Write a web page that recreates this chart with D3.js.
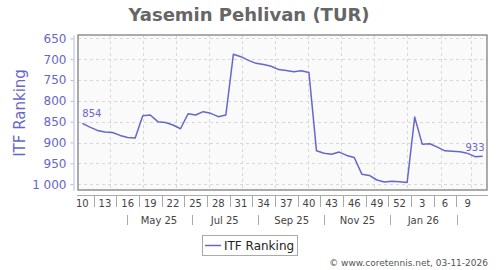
<!DOCTYPE html>
<html>
  <head>
    <meta charset="utf-8">
    <title>Yasemin Pehlivan (TUR)</title>
    <script src="https://d3js.org/d3.v7.min.js"></script>
    <style>
      body { margin: 0; background: #fff; }
      svg { font-family: "DejaVu Sans", sans-serif; display: block; }
    </style>
  </head>
  <body>
    <svg id="chart" width="500" height="270"></svg>
    <script>
      // data: weekly ITF ranking, first week = week 10 of 2025
      const firstWeek = "2025-03-06";
      const ranking = [854, 863, 871, 875, 876, 883, 888, 889, 836, 834,
        850, 852, 858, 867, 831, 834, 826, 830, 838, 834,
        688, 694, 703, 710, 713, 717, 725, 727, 730, 728,
        732, 920, 926, 928, 923, 931, 936, 976, 979, 990,
        995, 993, 994, 996, 839, 904, 903, 911, 920, 921,
        922, 926, 934, 933];
      const weekLabels = ["10", "13", "16", "19", "22", "25", "28", "31", "34",
        "37", "40", "43", "46", "49", "52", "3", "6", "9"];
      const monthLabels = ["May 25", "Jul 25", "Sep 25", "Nov 25", "Jan 26"];
      const yTicks = [650, 700, 750, 800, 850, 900, 950, 1000];

      const parse = d3.timeParse("%Y-%m-%d");
      const start = parse(firstWeek);
      const series = ranking.map(function(v, i) {
        return { date: d3.timeWeek.offset(start, i), rank: v };
      });
      // week labels every 3rd week, month labels mid-month every 2nd month
      const weekDates = weekLabels.map(function(l, i) { return d3.timeWeek.offset(start, i * 3); });
      const monthDates = monthLabels.map(function(l, i) { return d3.timeMonth.offset(new Date(2025, 4, 16), i * 2); });

      const plot = { left: 78, right: 487, top: 35, bottom: 190 };
      const colour = "#6666cc";
      const chart = d3.select("#chart");

      const x = d3.scaleTime()
        .domain([new Date(2025, 2, 2), new Date(2026, 2, 16)])
        .range([plot.left, plot.right]);
      const y = d3.scaleLinear()
        .domain([642, 1014])
        .range([plot.top, plot.bottom]);
      const fmt = d3.formatLocale({ decimal: ",", thousands: " ", grouping: [3], currency: ["", ""] }).format(",d");

      // title
      chart.append("text")
        .attr("x", 249).attr("y", 21)
        .attr("text-anchor", "middle")
        .style("font-size", "18px").style("font-weight", "bold")
        .style("fill", "#666")
        .text("Yasemin Pehlivan (TUR)");

      // plot background and grid
      chart.append("rect")
        .attr("x", plot.left).attr("y", plot.top)
        .attr("width", plot.right - plot.left).attr("height", plot.bottom - plot.top)
        .style("fill", "#fafafa");
      const grid = chart.append("g")
        .style("stroke", "#d8d8d8").style("stroke-dasharray", "3,3");
      grid.selectAll(".h").data(yTicks)
        .enter().append("line")
          .attr("x1", plot.left).attr("x2", plot.right)
          .attr("y1", function(d) { return Math.round(y(d)) + 0.5; })
          .attr("y2", function(d) { return Math.round(y(d)) + 0.5; });
      grid.selectAll(".v").data(d3.timeMonth.range(new Date(2025, 3, 1), new Date(2026, 2, 2)))
        .enter().append("line")
          .attr("y1", plot.top).attr("y2", plot.bottom)
          .attr("x1", function(d) { return Math.round(x(d)) + 0.5; })
          .attr("x2", function(d) { return Math.round(x(d)) + 0.5; });
      chart.append("rect")
        .attr("x", plot.left).attr("y", plot.top)
        .attr("width", plot.right - plot.left).attr("height", plot.bottom - plot.top)
        .style("fill", "none").style("stroke", "#808080").style("stroke-width", 1.3);

      // y axis
      const yAxis = d3.axisLeft(y)
        .tickValues(yTicks)
        .tickFormat(fmt)
        .tickSize(3)
        .tickPadding(4)
        .tickSizeOuter(0);
      const yAxisGroup = chart.append("g")
        .attr("transform", "translate(73.5, 0)")
        .call(yAxis);
      yAxisGroup.select(".domain").style("stroke", "#b8b8e4");
      yAxisGroup.selectAll(".tick line").style("stroke", "#b8b8e4");
      yAxisGroup.selectAll(".tick text")
        .style("font-family", "DejaVu Sans").style("font-size", "12px")
        .style("fill", colour);
      chart.append("text")
        .attr("transform", "translate(25, 113) rotate(-90)")
        .attr("text-anchor", "middle")
        .style("font-size", "15px").style("fill", colour)
        .text("ITF Ranking");

      // x axis: week row and month row
      const xg = chart.append("g");
      xg.append("line")
        .attr("x1", plot.left - 1).attr("x2", plot.right + 1)
        .attr("y1", 195.5).attr("y2", 195.5)
        .style("stroke", "#aaa");
      const weekSeps = weekDates.slice(1).map(function(d, i) {
        return new Date((d.getTime() + weekDates[i].getTime()) / 2);
      });
      xg.selectAll(".wtick").data(weekSeps)
        .enter().append("line")
          .attr("x1", function(d) { return Math.round(x(d)) + 0.5; })
          .attr("x2", function(d) { return Math.round(x(d)) + 0.5; })
          .attr("y1", 196).attr("y2", 199)
          .style("stroke", "#aaa");
      xg.selectAll(".wsep").data(weekSeps)
        .enter().append("line")
          .attr("x1", function(d) { return Math.round(x(d)) + 0.5; })
          .attr("x2", function(d) { return Math.round(x(d)) + 0.5; })
          .attr("y1", 199).attr("y2", 207)
          .style("stroke", "#aaa");
      xg.selectAll(".wlab").data(weekLabels)
        .enter().append("text")
          .attr("x", function(d, i) { return x(weekDates[i]); })
          .attr("y", 207)
          .attr("text-anchor", "middle")
          .style("font-size", "10px").style("fill", "#444")
          .text(function(d) { return d; });
      const monthSeps = monthDates.map(function(d) { return d3.timeMonth.offset(d, -1); })
        .concat([d3.timeMonth.offset(monthDates[monthDates.length - 1], 1)]);
      xg.selectAll(".msep").data(monthSeps)
        .enter().append("line")
          .attr("x1", function(d) { return Math.round(x(d)) + 0.5; })
          .attr("x2", function(d) { return Math.round(x(d)) + 0.5; })
          .attr("y1", 215).attr("y2", 225)
          .style("stroke", "#aaa");
      xg.selectAll(".mlab").data(monthLabels)
        .enter().append("text")
          .attr("x", function(d, i) { return x(monthDates[i]); })
          .attr("y", 223.5)
          .attr("text-anchor", "middle")
          .style("font-size", "10px").style("fill", "#444")
          .text(function(d) { return d; });

      // ranking line
      const line = d3.line()
        .x(function(d) { return x(d.date); })
        .y(function(d) { return y(d.rank); });
      chart.append("path")
        .datum(series)
        .attr("d", line)
        .style("fill", "none").style("stroke", colour)
        .style("stroke-width", 1.5).style("stroke-linejoin", "round");

      // first and last value labels
      const first = series[0], last = series[series.length - 1];
      chart.append("text")
        .attr("x", x(first.date)).attr("y", y(first.rank) - 6)
        .style("font-size", "10px").style("fill", colour)
        .text(first.rank);
      chart.append("text")
        .attr("x", plot.right - 2.5).attr("y", y(last.rank) - 5)
        .attr("text-anchor", "end")
        .style("font-size", "10px").style("fill", colour)
        .style("stroke", "#fafafa").style("stroke-width", 3).style("paint-order", "stroke")
        .text(last.rank);

      // legend
      const legend = chart.append("g");
      legend.append("rect")
        .attr("x", 202.5).attr("y", 235.5).attr("width", 95).attr("height", 20)
        .style("fill", "#fff").style("stroke", "#aaa");
      legend.append("line")
        .attr("x1", 205).attr("x2", 221).attr("y1", 245.5).attr("y2", 245.5)
        .style("stroke", colour).style("stroke-width", 1.5);
      legend.append("text")
        .attr("x", 224).attr("y", 250)
        .style("font-size", "12px").style("fill", "#222")
        .text("ITF Ranking");

      // credit
      chart.append("text")
        .attr("x", 488).attr("y", 266)
        .attr("text-anchor", "end")
        .style("font-size", "9px").style("fill", "#555")
        .text("© www.coretennis.net, 03-11-2026");
    </script>
  </body>
</html>
